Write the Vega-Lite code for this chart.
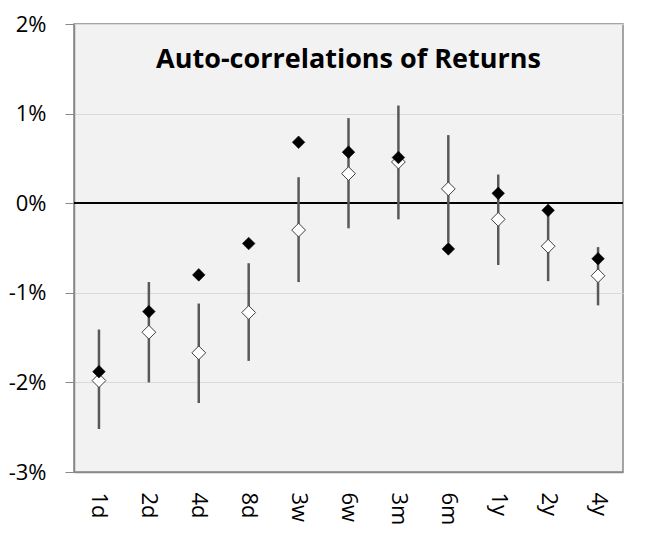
{
  "$schema": "https://vega.github.io/schema/vega-lite/v6.json",
  "width": 549,
  "height": 448,
  "autosize": {"type": "none"},
  "padding": {"left": 74, "top": 24, "right": 27, "bottom": 66},
  "background": "white",
  "title": {
    "text": "Auto-correlations of Returns",
    "font": "Open Sans",
    "fontSize": 27,
    "fontWeight": "bold",
    "color": "black",
    "anchor": "middle",
    "orient": "top",
    "baseline": "alphabetic",
    "offset": -82
  },
  "config": {
    "view": {"fill": "#f2f2f2", "stroke": "#888888", "strokeWidth": 1.5},
    "axis": {"labelFont": "Open Sans", "labelFontSize": 22, "labelColor": "black"}
  },
  "data": {
    "values": [
      {"h": "1d", "black": -1.88, "white": -1.98, "lo": -2.52, "hi": -1.41},
      {"h": "2d", "black": -1.21, "white": -1.44, "lo": -2.0, "hi": -0.88},
      {"h": "4d", "black": -0.8, "white": -1.67, "lo": -2.23, "hi": -1.12},
      {"h": "8d", "black": -0.45, "white": -1.22, "lo": -1.76, "hi": -0.67},
      {"h": "3w", "black": 0.68, "white": -0.3, "lo": -0.88, "hi": 0.29},
      {"h": "6w", "black": 0.57, "white": 0.33, "lo": -0.28, "hi": 0.95},
      {"h": "3m", "black": 0.51, "white": 0.46, "lo": -0.18, "hi": 1.09},
      {"h": "6m", "black": -0.51, "white": 0.16, "lo": -0.44, "hi": 0.76},
      {"h": "1y", "black": 0.11, "white": -0.18, "lo": -0.69, "hi": 0.32},
      {"h": "2y", "black": -0.08, "white": -0.48, "lo": -0.87, "hi": -0.09},
      {"h": "4y", "black": -0.62, "white": -0.81, "lo": -1.14, "hi": -0.49}
    ]
  },
  "encoding": {
    "x": {
      "field": "h",
      "type": "nominal",
      "sort": null,
      "scale": {"type": "point", "padding": 0.5},
      "axis": {
        "title": null,
        "labelAngle": 90,
        "labelAlign": "left",
        "labelBaseline": "middle",
        "labelPadding": 20,
        "ticks": false,
        "domain": true,
        "domainColor": "#888888",
        "domainWidth": 1.5,
        "grid": false
      }
    }
  },
  "layer": [
    {
      "mark": {"type": "rule", "stroke": "black", "strokeWidth": 1},
      "encoding": {
        "x": null,
        "y": {
          "datum": 0,
          "type": "quantitative",
          "scale": {"domain": [-3, 2], "nice": false, "zero": false},
          "axis": {
            "title": null,
            "values": [-3, -2, -1, 0, 1, 2],
            "labelExpr": "datum.value + '%'",
            "grid": true,
            "gridColor": "#d9d9d9",
            "gridWidth": 1,
            "tickSize": 9,
            "tickColor": "#888888",
            "tickWidth": 1,
            "labelPadding": 19,
            "domainColor": "#888888",
            "domainWidth": 1.5
          }
        }
      }
    },
    {
      "mark": {"type": "rule", "stroke": "#595959", "strokeWidth": 2.5},
      "encoding": {
        "y": {"field": "lo", "type": "quantitative"},
        "y2": {"field": "hi"}
      }
    },
    {
      "mark": {"type": "point", "shape": "diamond", "filled": true, "fill": "white", "stroke": "#404040", "strokeWidth": 1, "size": 190, "opacity": 1},
      "encoding": {
        "y": {"field": "white", "type": "quantitative"}
      }
    },
    {
      "mark": {"type": "point", "shape": "diamond", "filled": true, "fill": "black", "stroke": "black", "strokeWidth": 0.5, "size": 160, "opacity": 1},
      "encoding": {
        "y": {"field": "black", "type": "quantitative"}
      }
    }
  ]
}
